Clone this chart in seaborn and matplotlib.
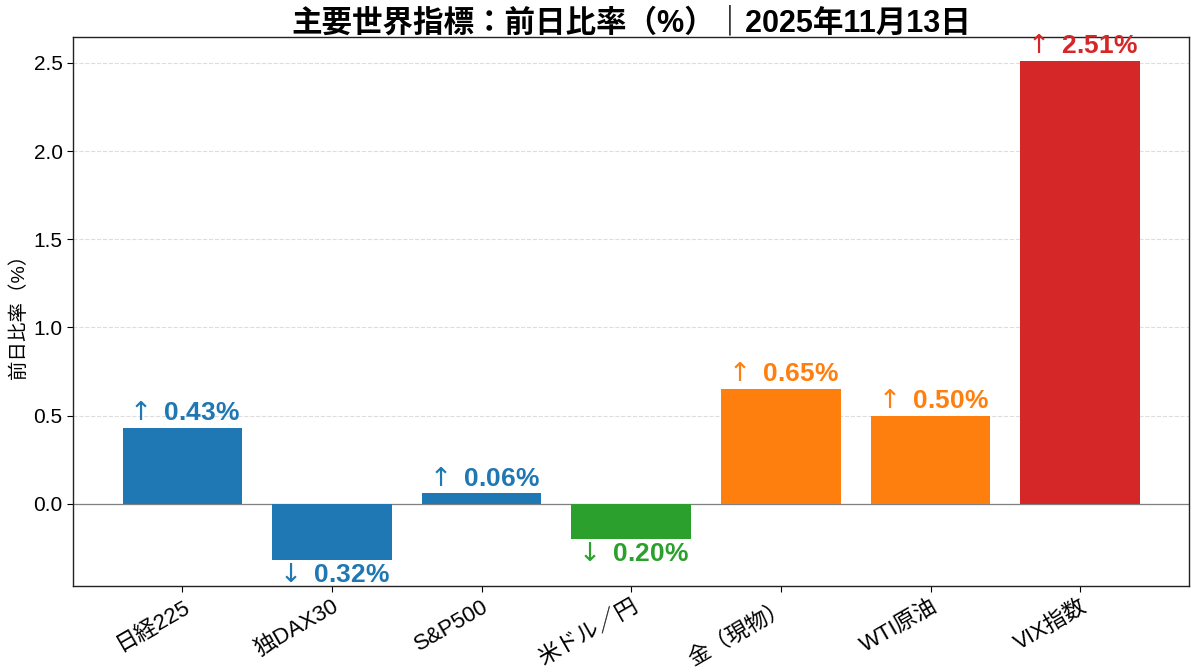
import matplotlib
matplotlib.use("Agg")
import matplotlib.pyplot as plt
import seaborn as sns
import pandas as pd

# data
names = ["日経225", "独DAX30", "S&P500", "米ドル／円", "金（現物）", "WTI原油", "VIX指数"]
changes = [0.43, -0.32, 0.06, -0.20, 0.65, 0.50, 2.51]
groups = ["株式", "株式", "株式", "為替", "商品", "商品", "恐怖指数"]
group_colors = {"株式": "#1f77b4", "為替": "#2ca02c", "商品": "#ff7f0e", "恐怖指数": "#d62728"}

df = pd.DataFrame({"name": names, "change": changes, "group": groups})

sns.set_style("white")
plt.rcParams["font.family"] = ["Liberation Sans", "Noto Sans CJK JP", "DejaVu Sans"]
plt.rcParams["text.color"] = "black"
plt.rcParams["axes.labelcolor"] = "black"
plt.rcParams["xtick.color"] = "black"
plt.rcParams["ytick.color"] = "black"

fig, ax = plt.subplots(figsize=(11.99, 6.71), dpi=100)
sns.barplot(data=df, x="name", y="change", hue="group", palette=group_colors,
            dodge=False, width=0.8, saturation=1, linewidth=0, legend=False,
            ax=ax, zorder=3)

ax.axhline(0, color="gray", linewidth=0.9, zorder=2)
ax.grid(axis="y", linestyle="--", color="#dddddd", linewidth=0.8, zorder=0)
ax.set_axisbelow(True)

# value labels (thin arrow via mathtext, bold number)
for i, (v, g) in enumerate(zip(changes, groups)):
    arrow = r"$\uparrow$" if v >= 0 else r"$\downarrow$"
    va = "bottom" if v >= 0 else "top"
    off = 0.015 if v >= 0 else -0.015
    ax.text(i, v + off, f"{arrow} {abs(v):.2f}%", ha="center", va=va,
            color=group_colors[g], fontsize=19, fontweight="bold", zorder=4)

ax.set_xlim(-0.73, 6.73)
ax.set_ylim(-0.465, 2.647)
ax.set_xlabel("")
ax.set_ylabel("前日比率（%）", fontsize=14)
ax.set_title("主要世界指標：前日比率（%）｜2025年11月13日", fontsize=22, fontweight="bold", pad=4)
ax.tick_params(axis="y", labelsize=15, length=4, direction="out", left=True)
ax.tick_params(axis="x", labelsize=16, length=4, direction="out", bottom=True)
plt.setp(ax.get_xticklabels(), rotation=30, ha="right", rotation_mode="anchor")
for s in ax.spines.values():
    s.set_color("#222222")
    s.set_linewidth(1)

plt.subplots_adjust(left=0.061, right=0.992, top=0.945, bottom=0.127)
plt.savefig("out.png", dpi=100)
